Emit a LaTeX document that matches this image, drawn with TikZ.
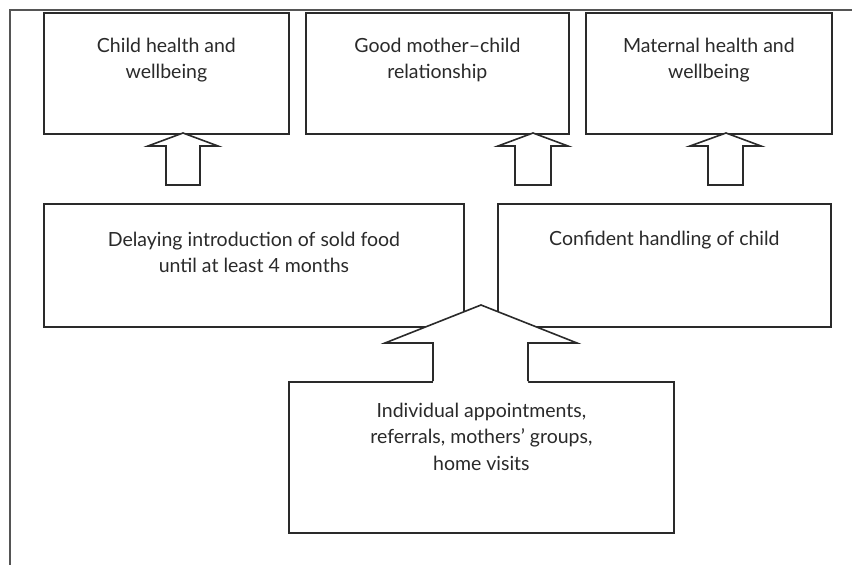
\documentclass[tikz,border=0pt]{standalone}
\usepackage{fontspec}
\setmainfont{Lato}
\definecolor{ink}{HTML}{2A2A2A}
\begin{document}
\begin{tikzpicture}[x=1pt,y=-1pt,
  box/.style={draw=ink,line width=1.8pt,fill=white,inner sep=0pt,anchor=north west},
  txt/.style={anchor=north,inner sep=0pt,align=center,text=ink,font=\fontsize{19.5}{26.5}\selectfont},
  arr/.style={draw=ink,line width=1.6pt,line join=miter,fill=white}]
\useasboundingbox (0,0) rectangle (852,565);
% frame
\draw[ink!80,line width=1.5pt] (10,565) -- (10,10) -- (852,10);
% top boxes
\node[box,minimum width=245pt,minimum height=121pt] (b1) at (43,12) {};
\node[box,minimum width=263pt,minimum height=121pt] (b2) at (305,12) {};
\node[box,minimum width=246pt,minimum height=121pt] (b3) at (585,12) {};
% middle boxes
\node[box,minimum width=420pt,minimum height=123pt] (b4) at (43,203) {};
\node[box,minimum width=333pt,minimum height=123pt] (b5) at (497,203) {};
% bottom box
\node[box,minimum width=385pt,minimum height=151pt] (b6) at (288,381) {};
% texts
\node[txt] (t1) at ([yshift=-25.5pt]b1.north) {Child health and\\wellbeing};
\node[txt] (t2) at ([yshift=-25.5pt]b2.north) {Good mother–child\\relationship};
\node[txt] (t3) at ([yshift=-25.5pt]b3.north) {Maternal health and\\wellbeing};
\node[txt] (t4) at ([yshift=-28.5pt]b4.north) {Delaying introduction of sold food\\until at least 4 months};
\node[txt] (t5) at ([yshift=-28pt]b5.north) {Confident handling of child};
\node[txt] (t6) at ([yshift=-21.5pt]b6.north) {Individual appointments,\\referrals, mothers’ groups,\\home visits};
% small up arrows
\draw[arr] (166,185) -- (166,146) -- (148,146) -- (183,133) -- (218,146) -- (200,146) -- (200,185) -- cycle;
\draw[arr] (515,185) -- (515,146) -- (498,146) -- (533,133) -- (568,146) -- (551,146) -- (551,185) -- cycle;
\draw[arr] (708,185) -- (708,146) -- (690,146) -- (726,133) -- (761,146) -- (743,146) -- (743,185) -- cycle;
% big arrow
\fill[white] (433,383) -- (433,343) -- (385,343) -- (481,305) -- (577,343) -- (528,343) -- (528,383) -- cycle;
\draw[ink,line width=1.6pt,line join=miter] (433,381) -- (433,343) -- (385,343) -- (481,305) -- (577,343) -- (528,343) -- (528,381);
\end{tikzpicture}
\end{document}
